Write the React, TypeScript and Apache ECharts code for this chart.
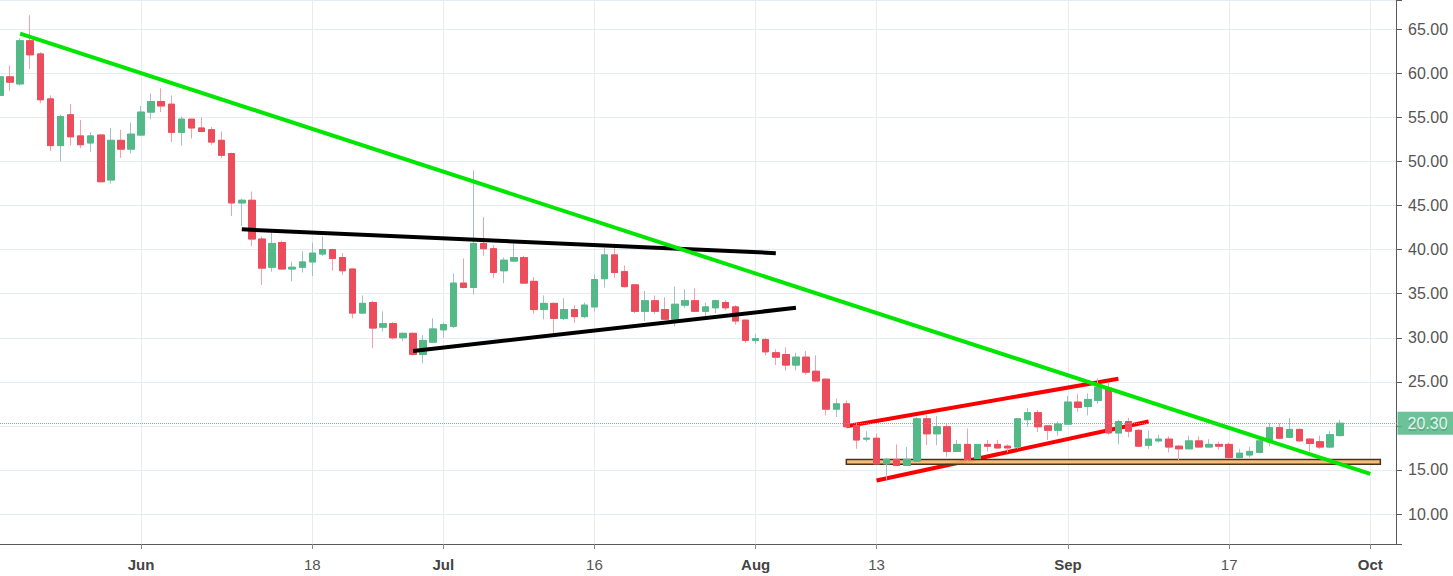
import React, { useEffect, useRef } from 'react';
import * as echarts from 'echarts';

// ---------- data ----------
const startDay = Date.UTC(2018, 4, 18);
const dayCount = 140;
const categories: string[] = [];
for (let i = 0; i < dayCount; i++) {
  categories.push(new Date(startDay + i * 86400000).toISOString().slice(0, 10));
}

const xTickLabels: Record<string, string> = {
  '2018-06-01': 'Jun',
  '2018-06-18': '18',
  '2018-07-01': 'Jul',
  '2018-07-16': '16',
  '2018-08-01': 'Aug',
  '2018-08-13': '13',
  '2018-09-01': 'Sep',
  '2018-09-17': '17',
  '2018-10-01': 'Oct',
};
const monthNames = ['Jun', 'Jul', 'Aug', 'Sep', 'Oct'];
const yTicks = [10, 15, 20, 25, 30, 35, 40, 45, 50, 55, 60, 65];

const opens = [
  57.5, 59.6, 58.8, 63.7, 62.2, 57.1, 51.8, 55.3, 52.9, 52.1,
  53.0, 47.9, 52.4, 51.4, 53.0, 55.6, 56.8, 56.5, 53.3, 54.8,
  53.8, 53.6, 52.4, 50.9, 45.3, 45.6, 41.2, 38.0, 40.8, 37.8,
  38.0, 38.6, 39.5, 40.0, 39.1, 37.8, 32.8, 34.0, 31.2, 31.6,
  30.0, 30.5, 28.1, 29.5, 30.9, 31.3, 36.2, 35.7, 40.7, 40.1,
  37.6, 38.7, 39.1, 36.4, 33.2, 33.9, 32.2, 33.2, 32.4, 33.5,
  36.7, 39.4, 37.5, 36.0, 33.0, 34.2, 33.2, 32.1, 33.7, 34.2,
  33.0, 33.4, 34.0, 33.5, 32.0, 29.7, 29.8, 28.3, 28.1, 26.9,
  27.8, 26.2, 25.3, 21.9, 22.5, 20.0, 18.5, 18.6, 15.7, 16.2,
  15.5, 16.0, 20.8, 19.1, 19.9, 17.1, 17.9, 16.3, 17.9, 17.9,
  17.7, 17.6, 20.7, 21.5, 20.0, 19.5, 20.2, 22.7, 22.2, 22.9,
  24.3, 19.2, 20.5, 19.5, 17.8, 18.3, 18.5, 17.7, 17.4, 18.3,
  17.6, 17.9, 17.9, 16.4, 16.7, 17.0, 18.2, 19.8, 18.7, 19.6,
  18.5, 18.2, 17.6, 18.9,
];
const closes = [
  59.6, 59.0, 63.7, 62.1, 57.0, 51.8, 55.1, 52.8, 51.9, 52.9,
  47.7, 52.4, 51.4, 53.1, 55.6, 56.8, 56.3, 53.3, 54.8, 53.8,
  53.4, 52.2, 50.7, 45.3, 45.6, 41.2, 37.9, 40.7, 37.8, 38.0,
  38.6, 39.6, 40.0, 39.0, 37.6, 32.8, 33.9, 31.1, 31.6, 30.0,
  30.5, 28.1, 29.7, 31.0, 31.5, 36.2, 35.7, 40.7, 40.1, 37.4,
  38.8, 39.1, 36.2, 33.2, 33.9, 32.2, 33.2, 32.4, 33.7, 36.6,
  39.4, 37.4, 35.8, 33.0, 34.2, 33.0, 32.1, 33.8, 34.2, 33.0,
  33.5, 34.2, 33.4, 31.9, 29.7, 29.9, 28.4, 27.8, 26.9, 27.8,
  26.1, 25.1, 21.9, 22.5, 19.9, 18.4, 18.6, 15.7, 16.2, 15.5,
  16.2, 20.8, 19.1, 19.9, 17.1, 17.9, 16.2, 17.9, 17.7, 17.5,
  17.5, 20.8, 21.5, 19.9, 19.5, 20.2, 22.7, 22.1, 23.0, 24.4,
  19.2, 20.5, 19.4, 17.7, 18.5, 18.5, 17.6, 17.4, 18.3, 17.6,
  17.9, 17.7, 16.4, 16.9, 17.1, 18.3, 19.8, 18.6, 19.6, 18.3,
  18.0, 17.6, 19.0, 20.3,
];
const lows = [
  57.0, 58.0, 58.6, 60.5, 56.6, 51.2, 50.0, 51.8, 51.5, 51.1,
  47.7, 47.5, 50.4, 50.9, 52.9, 54.8, 55.6, 52.2, 51.8, 52.6,
  53.3, 51.9, 50.4, 43.8, 42.7, 40.4, 36.0, 37.5, 37.8, 36.4,
  37.4, 37.0, 39.3, 37.6, 37.1, 32.2, 32.8, 28.8, 30.7, 29.8,
  29.6, 28.0, 27.1, 29.4, 30.0, 31.1, 35.6, 34.9, 39.3, 36.8,
  36.2, 38.6, 36.2, 32.7, 32.1, 30.5, 32.0, 31.7, 32.2, 33.0,
  35.7, 36.8, 35.7, 32.8, 31.9, 32.7, 32.1, 31.3, 33.4, 33.0,
  32.4, 32.8, 33.1, 31.5, 29.4, 29.3, 28.0, 26.9, 26.3, 26.3,
  25.8, 25.0, 21.2, 21.0, 19.9, 17.4, 18.2, 15.7, 13.9, 15.5,
  15.5, 16.0, 17.8, 17.8, 16.5, 17.1, 15.9, 16.3, 17.1, 17.4,
  17.0, 17.4, 19.9, 19.3, 18.4, 18.9, 20.2, 21.6, 21.2, 22.5,
  19.0, 17.9, 18.7, 17.7, 17.4, 18.1, 17.0, 16.1, 17.4, 17.6,
  17.6, 17.3, 16.3, 16.3, 16.4, 16.9, 17.7, 18.5, 18.6, 18.2,
  17.1, 17.4, 17.5, 18.8,
];
const highs = [
  60.0, 60.9, 64.0, 66.6, 62.4, 57.5, 55.3, 56.5, 54.7, 53.3,
  53.1, 53.8, 53.6, 54.4, 56.3, 57.7, 58.3, 57.5, 55.1, 54.8,
  55.0, 53.9, 53.4, 51.0, 45.8, 46.6, 41.5, 42.1, 41.0, 38.6,
  39.8, 40.8, 41.5, 40.1, 39.6, 37.8, 34.8, 34.2, 33.0, 31.8,
  30.6, 30.6, 30.3, 32.2, 31.7, 37.3, 39.0, 49.0, 43.7, 40.5,
  39.1, 41.0, 39.3, 36.9, 34.8, 34.0, 34.5, 33.7, 34.0, 37.2,
  40.2, 40.7, 38.2, 36.0, 35.3, 34.8, 34.6, 35.8, 35.5, 35.6,
  34.0, 34.3, 34.3, 33.7, 32.0, 30.4, 30.0, 28.7, 28.9, 28.3,
  28.5, 28.0, 25.3, 23.1, 22.9, 20.4, 19.4, 19.1, 16.4, 17.9,
  17.6, 21.0, 21.2, 21.1, 20.2, 18.4, 19.7, 17.9, 18.4, 18.4,
  17.9, 20.9, 22.0, 21.8, 20.0, 20.5, 23.4, 23.6, 23.7, 25.4,
  24.9, 20.7, 20.9, 19.6, 19.5, 19.0, 18.8, 17.8, 18.9, 18.8,
  18.5, 18.2, 18.1, 17.4, 17.6, 18.6, 20.3, 20.3, 20.9, 19.7,
  18.6, 18.9, 19.4, 20.7,
];

// trend lines drawn on the chart: [date, price] end points
const greenTrend: [string, number][] = [['2018-05-20', 64.5], ['2018-10-01', 14.55]];
const blackUpper: [string, number][] = [['2018-06-11', 42.3], ['2018-08-03', 39.6]];
const blackLower: [string, number][] = [['2018-06-28', 28.5], ['2018-08-05', 33.4]];
const redUpper: [string, number][] = [['2018-08-10', 19.95], ['2018-09-06', 25.35]];
const redLower: [string, number][] = [['2018-08-13', 13.8], ['2018-09-09', 20.5]];
const supportZone: [string, number][] = [['2018-08-10', 16.2], ['2018-10-02', 15.65]];

// ---------- styles ----------
const UP = '#53b987';
const DOWN = '#eb4d5c';
const UP_WICK = '#9fc2cb';
const DOWN_WICK = '#f2a1a9';
const GRID = '#e6edf2';
const AXIS = '#5a5a5a';
const FONT = 'Liberation Sans, Arial, sans-serif';

export default function App() {
  const ref = useRef<HTMLDivElement>(null);

  useEffect(() => {
    document.body.style.margin = '0';
    const chart = echarts.init(ref.current!, undefined, { renderer: 'svg' });

    const fullData = opens.map((o, i) => [o, closes[i], lows[i], highs[i]]);
    const bodyData = opens.map((o, i) => [o, closes[i], Math.min(o, closes[i]), Math.max(o, closes[i])]);
    const isTick = (_i: number, v: string) => v in xTickLabels;
    const lastClose = closes[closes.length - 1];

    const trend = (name: string, data: [string, number][], color: string, z: number, extra: any = {}) => ({
      name,
      type: 'line',
      data,
      z,
      showSymbol: false,
      symbol: 'none',
      silent: true,
      lineStyle: { color, width: 4, cap: 'butt' },
      ...extra,
    });

    chart.setOption({
      animation: false,
      backgroundColor: '#ffffff',
      grid: { left: 0, right: 52.5, top: 0, bottom: 32, containLabel: false },
      xAxis: {
        type: 'category',
        data: categories,
        boundaryGap: false,
        axisLine: { show: true, lineStyle: { color: AXIS, width: 1 } },
        axisTick: { show: true, interval: isTick, length: 5, lineStyle: { color: '#8a8a8a' } },
        axisLabel: {
          interval: isTick,
          margin: 13,
          formatter: (v: string) => {
            const t = xTickLabels[v];
            if (!t) return '';
            return monthNames.includes(t) ? `{b|${t}}` : `{n|${t}}`;
          },
          rich: {
            b: { fontFamily: FONT, fontSize: 15, fontWeight: 'bold', color: '#444' },
            n: { fontFamily: FONT, fontSize: 15, color: '#555' },
          },
        },
        splitLine: { show: true, interval: isTick, lineStyle: { color: GRID, width: 1 } },
      },
      yAxis: {
        type: 'value',
        position: 'right',
        offset: -4.5,
        min: 6.6,
        max: 68.32,
        splitNumber: 12,
        minInterval: 5,
        maxInterval: 5,
        axisLine: { show: true, lineStyle: { color: AXIS, width: 1 } },
        axisTick: { show: true, length: 6, lineStyle: { color: AXIS } },
        axisLabel: {
          margin: 12,
          color: '#555',
          fontSize: 16,
          fontFamily: FONT,
          formatter: (v: number) => (yTicks.some((t) => Math.abs(t - v) < 1e-6) ? v.toFixed(2) : ''),
        },
        splitLine: { show: true, lineStyle: { color: GRID, width: 1 } },
      },
      series: [
        trend('redUpper', redUpper, '#fa0000', 1.8),
        trend('redLower', redLower, '#fa0000', 1.8, {
          markArea: {
            z: 1.9,
            silent: true,
            itemStyle: { color: 'rgba(247,183,106,0.9)', borderColor: '#4a3418', borderWidth: 1.5 },
            data: [[
              { coord: supportZone[0] },
              { coord: supportZone[1] },
            ]],
          },
        }),
        {
          name: 'wicks',
          type: 'candlestick',
          data: fullData,
          z: 2,
          barWidth: 7,
          silent: true,
          itemStyle: { color: UP, color0: DOWN, borderColor: UP_WICK, borderColor0: DOWN_WICK, borderWidth: 1 },
        },
        {
          name: 'bodies',
          type: 'candlestick',
          data: bodyData,
          z: 2,
          barWidth: 7,
          silent: true,
          itemStyle: { color: UP, color0: DOWN, borderColor: UP, borderColor0: DOWN, borderWidth: 1 },
          markLine: {
            symbol: 'none',
            silent: true,
            data: [{ yAxis: lastClose }],
            lineStyle: { color: UP, type: 'dotted', width: 1, opacity: 0.85 },
            label: {
              show: true,
              position: 'end',
              distance: -3,
              formatter: () => lastClose.toFixed(2),
              backgroundColor: UP,
              color: '#ffffff',
              fontSize: 16,
              fontFamily: FONT,
              padding: [4, 8, 3, 10],
            },
          },
        },
        trend('blackUpper', blackUpper, '#000000', 3),
        trend('blackLower', blackLower, '#000000', 3),
        trend('green', greenTrend, '#00e600', 3),
      ],
    });

    return () => chart.dispose();
  }, []);

  return <div ref={ref} style={{ position: 'absolute', left: 0, top: 0, width: 1453, height: 576 }} />;
}
